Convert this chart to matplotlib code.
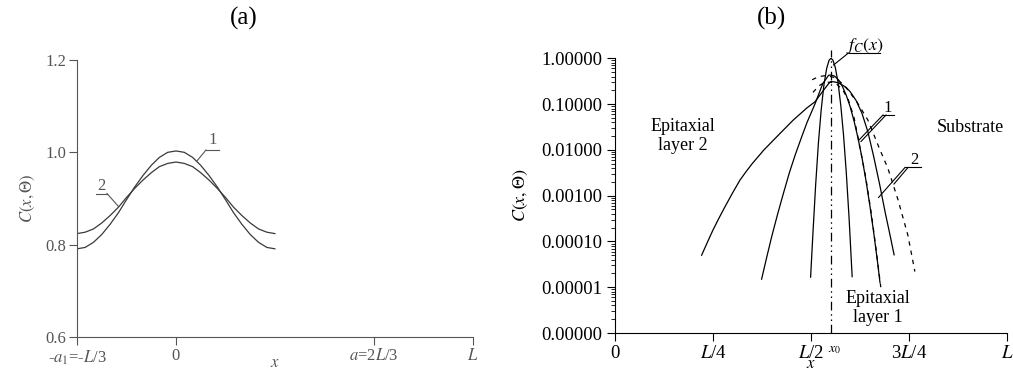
import matplotlib.pyplot as plt
from matplotlib.lines import Line2D
from matplotlib.ticker import FixedLocator, FormatStrFormatter, LogLocator, NullFormatter
import matplotlib.transforms as mtransforms

plt.rcParams['font.family'] = 'Liberation Serif'
plt.rcParams['mathtext.fontset'] = 'stix'

W, H = 1013, 372

# ---- panel (a): x in units of L ----
xa = [-0.333, -0.306, -0.278, -0.250, -0.222, -0.194, -0.167, -0.139, -0.111,
      -0.083, -0.056, -0.028, 0.0, 0.028, 0.056, 0.083, 0.111, 0.139, 0.167,
      0.194, 0.222, 0.250, 0.278, 0.306, 0.333]
ca1 = [0.791, 0.794, 0.805, 0.822, 0.844, 0.869, 0.897, 0.925, 0.950, 0.972,
       0.989, 1.000, 1.003, 1.000, 0.989, 0.972, 0.950, 0.925, 0.897, 0.869,
       0.844, 0.822, 0.805, 0.794, 0.791]
ca2 = [0.824, 0.827, 0.834, 0.847, 0.863, 0.881, 0.902, 0.922, 0.940, 0.956,
       0.969, 0.976, 0.979, 0.976, 0.969, 0.956, 0.940, 0.922, 0.902, 0.881,
       0.863, 0.847, 0.834, 0.827, 0.824]
xticks_a = [-1/3, 0, 2/3, 1]
xticklabels_a = ['-$a_1$=-$L$/3', '0', '$a$=2$L$/3', '$L$']
yticks_a = [0.6, 0.8, 1.0, 1.2]

# ---- panel (b): x in units of L ----
x0 = 0.551
xb_fc = [0.499, 0.505, 0.512, 0.519, 0.526, 0.533, 0.540, 0.546, 0.551, 0.556,
         0.562, 0.569, 0.576, 0.583, 0.590, 0.597, 0.605]
cb_fc = [1.66e-5, 1.55e-4, 1.8e-3, 1.45e-2, 7.5e-2, 0.263, 0.60, 0.90, 1.0, 0.91,
         0.63, 0.295, 0.093, 0.021, 3.2e-3, 3.4e-4, 1.7e-5]
xb_1 = [0.374, 0.387, 0.40, 0.415, 0.43, 0.445, 0.46, 0.475, 0.49, 0.51, 0.53,
        0.545, 0.551, 0.56, 0.57, 0.58, 0.59, 0.60, 0.61, 0.62, 0.63, 0.64,
        0.65, 0.66, 0.67, 0.676]
cb_1 = [1.5e-5, 4.5e-5, 1.3e-4, 4.0e-4, 1.15e-3, 3.2e-3, 7.9e-3, 1.8e-2, 0.040,
        0.10, 0.28, 0.427, 0.43, 0.41, 0.34, 0.245, 0.155, 0.087, 0.042, 0.018,
        6.8e-3, 2.2e-3, 6.2e-4, 1.55e-4, 3.4e-5, 1.26e-5]
xb_2 = [0.221, 0.235, 0.25, 0.265, 0.28, 0.30, 0.319, 0.335, 0.35, 0.38, 0.42,
        0.455, 0.49, 0.51, 0.53, 0.545, 0.551, 0.56, 0.57, 0.58, 0.59, 0.60,
        0.615, 0.63, 0.645, 0.66, 0.675, 0.69, 0.70, 0.712]
cb_2 = [5.0e-5, 9.3e-5, 1.78e-4, 3.2e-4, 5.6e-4, 1.15e-3, 2.2e-3, 3.4e-3,
        5.0e-3, 1.0e-2, 2.24e-2, 4.5e-2, 8.3e-2, 0.112, 0.19, 0.28, 0.31, 0.305,
        0.29, 0.26, 0.23, 0.186, 0.12, 0.063, 0.025, 7.1e-3, 1.78e-3, 4.0e-4,
        1.6e-4, 5.1e-5]
xb_da = [0.503, 0.52, 0.54, 0.56, 0.58, 0.594, 0.617, 0.645, 0.676, 0.696,
         0.722, 0.747, 0.765]
cb_da = [0.34, 0.40, 0.42, 0.38, 0.28, 0.204, 0.112, 0.045, 0.010, 4.0e-3,
         8.1e-4, 1.38e-4, 2.2e-5]
xb_db = [0.505, 0.52, 0.535, 0.55, 0.565, 0.58, 0.595, 0.61, 0.625, 0.64,
         0.655, 0.668, 0.678]
cb_db = [0.18, 0.25, 0.30, 0.30, 0.275, 0.21, 0.126, 0.05, 0.0112, 2.4e-3,
         3.5e-4, 5.0e-5, 1.0e-5]
xticks_b = [0, 0.25, 0.5, 0.75, 1]
xticklabels_b = ['0', '$L$/4', '$L$/2', '3$L$/4', '$L$']
yticks_b = [1e-6, 1e-5, 1e-4, 1e-3, 1e-2, 1e-1, 1]


def box(l, t, r, b):
    return [l / W, 1 - b / H, (r - l) / W, (b - t) / H]


def pline(xs, ys, color='k', lw=0.8):
    fig.add_artist(Line2D([x / W for x in xs], [1 - y / H for y in ys],
                          color=color, lw=lw))


def ptext(x, y, s, **kw):
    fig.text(x / W, 1 - y / H, s, ha='center', va='center', **kw)


fig = plt.figure(figsize=(W / 100, H / 100), dpi=100)

# ---------------- (a) ----------------
grey = '#555555'
ax = fig.add_axes(box(77, 60, 473, 337))
ax.plot(xa, ca1, color='#3a3a3a', lw=0.9)
ax.plot(xa, ca2, color='#3a3a3a', lw=0.9)
ax.set_xlim(-1/3, 1)
ax.set_ylim(0.6, 1.2)
for s in ['top', 'right']:
    ax.spines[s].set_visible(False)
for s in ['left', 'bottom']:
    ax.spines[s].set_color(grey)
ax.set_xticks(xticks_a)
ax.set_xticklabels(xticklabels_a)
ax.set_yticks(yticks_a)
ax.set_yticklabels(['0.6', '0.8', '1.0', '1.2'])
ax.tick_params(direction='out', length=6, width=0.8, colors=grey,
               labelsize=12, pad=2)
ax.set_xlabel('$x$', fontsize=12, color=grey, labelpad=-8)
ax.set_ylabel(r'$C(x,\Theta)$', fontsize=12, color=grey, labelpad=6)

ptext(244, 18, '(a)', fontsize=18)
ptext(213, 140, '1', fontsize=12, color=grey)
pline([206, 219], [150, 150], color=grey)
pline([206, 196.5], [150, 161.5], color=grey)
ptext(101, 186, '2', fontsize=12, color=grey)
pline([96, 107], [193.5, 193.5], color=grey)
pline([107, 118.5], [193.5, 206.5], color=grey)

# ---------------- (b) ----------------
bx = fig.add_axes(box(615, 58.3, 1007, 333))
bx.plot(xb_fc, cb_fc, color='k', lw=0.9)
bx.plot(xb_1, cb_1, color='k', lw=0.9)
bx.plot(xb_2, cb_2, color='k', lw=0.9)
bx.plot(xb_da, cb_da, color='k', lw=0.9, dashes=(3.5, 4))
bx.plot(xb_db, cb_db, color='k', lw=0.9, dashes=(3.5, 4))
bx.plot([x0, x0], [1e-6, 1.5], color='k', lw=0.9,
        dashes=(7, 3, 1.2, 3, 1.2, 3), clip_on=False)
bx.set_yscale('log')
bx.set_xlim(0, 1)
bx.set_ylim(1e-6, 1)
for s in ['top', 'right']:
    bx.spines[s].set_visible(False)
bx.set_xticks(xticks_b)
bx.set_xticklabels(xticklabels_b)
bx.yaxis.set_major_locator(FixedLocator(yticks_b))
bx.yaxis.set_major_formatter(FormatStrFormatter('%.5f'))
bx.yaxis.set_minor_locator(LogLocator(base=10, subs=range(2, 10), numticks=20))
bx.yaxis.set_minor_formatter(NullFormatter())
bx.tick_params(which='major', direction='out', length=6, width=0.8,
               labelsize=13.5, pad=3)
bx.tick_params(which='minor', direction='out', length=3, width=0.6)
bx.set_xlabel('$x$', fontsize=12, labelpad=-5)
bx.set_ylabel(r'$C(x,\Theta)$', fontsize=13, labelpad=8)
tr = mtransforms.blended_transform_factory(bx.transData, bx.transAxes)
bx.text(x0 + 0.008, -0.035, '$x_0$', transform=tr, fontsize=10,
        ha='center', va='top')

ptext(771, 18, '(b)', fontsize=18)
ptext(683, 136, 'Epitaxial\nlayer 2', fontsize=13, linespacing=1.1)
ptext(970, 128, 'Substrate', fontsize=13)
ptext(878, 308, 'Epitaxial\nlayer 1', fontsize=13, linespacing=1.1)

ptext(865, 46, '$f_C(x)$', fontsize=13)
pline([848.5, 880], [53, 53])
pline([833.5, 848.5], [65, 53])

ptext(888, 108, '1', fontsize=12)
pline([883, 894], [115, 115])
pline([883, 858.5], [115, 140.5])
pline([886, 861], [115, 141.5])

ptext(914, 160, '2', fontsize=12)
pline([905, 921], [167.5, 167.5])
pline([905, 878.5], [167.5, 197.5])
pline([908, 894], [167.5, 184])

fig.savefig('out.png', dpi=100)
